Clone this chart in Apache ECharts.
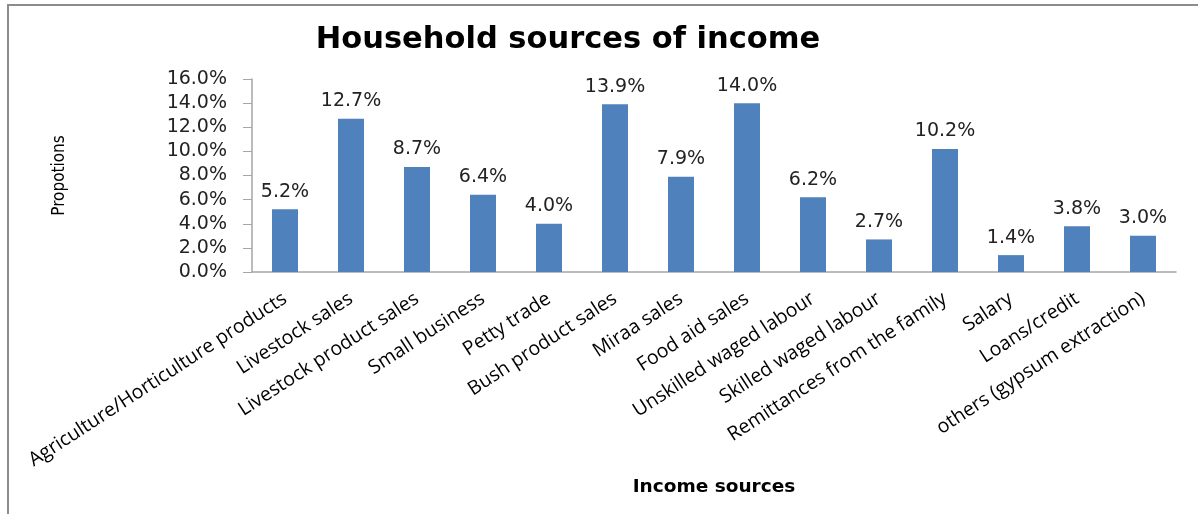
<!DOCTYPE html>
<html>
<head>
<meta charset="utf-8">
<script src="https://cdn.jsdelivr.net/npm/echarts@6/dist/echarts.min.js"></script>
<style>
html,body{margin:0;padding:0;background:#fff;}
#c{width:1198px;height:514px;}
</style>
</head>
<body>
<div id="c"></div>
<script>
var categories = [
  "Agriculture/Horticulture products",
  "Livestock sales",
  "Livestock product sales",
  "Small business",
  "Petty trade",
  "Bush product sales",
  "Miraa sales",
  "Food aid sales",
  "Unskilled waged labour",
  "Skilled waged labour",
  "Remittances from the family",
  "Salary",
  "Loans/credit",
  "others (gypsum extraction)"
];
var values = [5.2, 12.7, 8.7, 6.4, 4.0, 13.9, 7.9, 14.0, 6.2, 2.7, 10.2, 1.4, 3.8, 3.0];
var yTicks = { min: 0, max: 16, interval: 2 };

var chart = echarts.init(document.getElementById('c'), null, {renderer: 'canvas'});
chart.setOption({
  animation: false,
  backgroundColor: '#ffffff',
  graphic: [{
    type: 'rect',
    shape: { x: 8, y: 5, width: 1300, height: 600 },
    style: { fill: 'none', stroke: '#8c8c8c', lineWidth: 2 },
    silent: true
  }],
  title: {
    text: 'Household sources of income',
    left: 563, top: 20,
    textAlign: 'center',
    textStyle: { fontFamily: 'DejaVu Sans', fontWeight: 'bold', fontSize: 30.5, color: '#000' }
  },
  grid: { left: 252, right: 22, top: 79, bottom: 242, containLabel: false },
  xAxis: {
    type: 'category',
    data: categories,
    name: 'Income sources',
    nameLocation: 'middle',
    nameGap: 206,
    nameTextStyle: { fontFamily: 'DejaVu Sans', fontWeight: 'bold', fontSize: 18.5, color: '#000' },
    axisLine: { lineStyle: { color: '#a6a6a6', width: 1.5 } },
    axisTick: { show: false },
    axisLabel: {
      interval: 0, rotate: 33, margin: 25,
      fontFamily: 'Open Sans', fontSize: 19.5, color: '#000'
    }
  },
  yAxis: {
    type: 'value',
    min: yTicks.min, max: yTicks.max, interval: yTicks.interval,
    name: 'Propotions',
    nameLocation: 'middle',
    nameGap: 184,
    nameRotate: 90,
    nameTextStyle: { fontFamily: 'DejaVu Sans Condensed, DejaVu Sans', fontSize: 17, color: '#000' },
    splitLine: { show: false },
    axisLine: { show: true, lineStyle: { color: '#a6a6a6', width: 1.5 } },
    axisTick: { show: true, length: 9, lineStyle: { color: '#a6a6a6' } },
    axisLabel: {
      margin: 25,
      fontFamily: 'DejaVu Sans', fontSize: 19, color: '#222',
      formatter: function (v) { return v.toFixed(1) + '%'; }
    }
  },
  series: [{
    type: 'bar',
    data: values,
    barWidth: 26,
    itemStyle: { color: '#4f81bd' },
    label: {
      show: true, position: 'top', distance: 8,
      fontFamily: 'DejaVu Sans', fontSize: 19, color: '#222',
      formatter: function (p) { return p.value.toFixed(1) + '%'; }
    }
  }]
});
</script>
</body>
</html>
